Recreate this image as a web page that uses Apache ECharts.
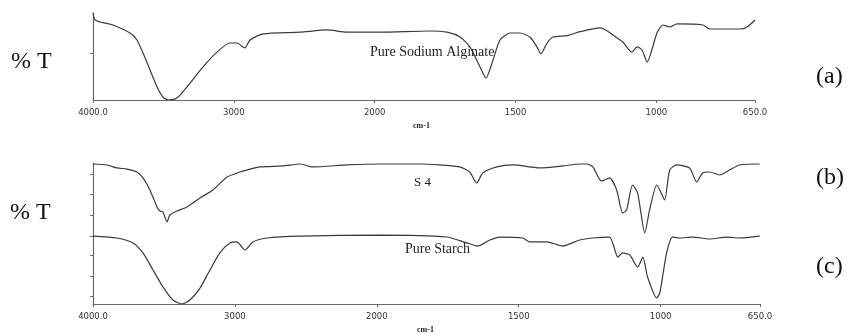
<!DOCTYPE html>
<html>
<head>
<meta charset="utf-8">
<script src="https://cdn.jsdelivr.net/npm/echarts@6/dist/echarts.min.js"></script>
<style>
  html, body { margin: 0; padding: 0; background: #fff; }
  #main { width: 849px; height: 334px; }
</style>
</head>
<body>
<div id="main"></div>
<script>
// wavenumbers (cm-1) and %T
var alginateWn = [4000, 3986, 3950, 3858, 3737, 3688, 3645, 3595, 3545, 3503, 3467, 3418, 3382, 3311, 3219, 3120, 3027, 2978, 2935, 2921, 2885, 2793, 2530, 2338, 2196, 1981, 1804, 1743, 1697, 1662, 1626, 1605, 1580, 1555, 1520, 1484, 1449, 1424, 1410, 1388, 1367, 1317, 1271, 1200, 1129, 1119, 1087, 1069, 1051, 1033, 998, 977, 952, 927, 835, 810, 703, 678, 650];
var alginateT = [100, 92, 89.7, 86.2, 77, 69, 54, 34.5, 15, 3.4, 0, 1, 5.7, 19.5, 38, 55, 65.5, 65.5, 61, 60, 69, 76, 78, 80.5, 78, 78, 79.3, 78, 72.4, 61, 38, 25.3, 46, 69, 77, 77, 72.4, 61, 53, 65.5, 72.4, 74, 78.5, 82.8, 69, 66.7, 55, 61, 57.5, 43.7, 77, 86.2, 84, 87.4, 86.2, 81.6, 81.6, 84, 92];

var s4Wn = [4000, 3901, 3831, 3761, 3690, 3648, 3599, 3549, 3528, 3507, 3479, 3458, 3408, 3338, 3246, 3155, 3056, 2965, 2916, 2824, 2662, 2542, 2451, 2211, 1989, 1849, 1708, 1673, 1648, 1627, 1577, 1521, 1426, 1345, 1285, 1261, 1239, 1208, 1180, 1155, 1134, 1120, 1099, 1081, 1056, 1039, 1014, 1003, 986, 968, 944, 898, 873, 852, 827, 792, 757, 722, 651];
var s4T = [99.3, 98.6, 96.5, 95.7, 93.6, 89.4, 80.9, 68.8, 66, 65.2, 58.2, 63.1, 66, 68.8, 75.2, 80.9, 90, 93.6, 95, 97.2, 97.9, 99.3, 97.2, 98.6, 99.3, 99.3, 97.2, 93.6, 85.8, 92.9, 97.2, 98.6, 96.5, 97.9, 99.3, 99.3, 97.2, 87.2, 89.4, 80.9, 64.5, 66.7, 84.4, 78.7, 50.4, 66.7, 84.4, 80.9, 73.8, 95, 98.6, 96.5, 86.5, 92.9, 93.6, 91.5, 95, 98.6, 99.3];

var starchWn = [4000, 3831, 3718, 3648, 3577, 3507, 3437, 3373, 3317, 3246, 3176, 3106, 3035, 2986, 2951, 2930, 2873, 2775, 2542, 1989, 1753, 1683, 1644, 1602, 1567, 1486, 1461, 1401, 1345, 1285, 1239, 1180, 1151, 1134, 1109, 1081, 1063, 1046, 1014, 1003, 979, 958, 933, 887, 827, 768, 722, 651];
var starchT = [48.2, 46.8, 43.3, 36.2, 24.1, 12.1, 2.8, 0, 2.8, 11.3, 24.1, 36.2, 43.3, 44, 40.4, 38.3, 44, 46.8, 48.2, 48.9, 47.5, 43.3, 41.1, 45.4, 47.5, 46.8, 44, 44, 41.1, 45.4, 46.8, 47.5, 33.3, 36.2, 34.8, 26.2, 33.3, 19.1, 4.3, 7.8, 36.2, 47.5, 46.8, 47.5, 46.1, 47.5, 46.8, 48.2];

// x tick labels and where they sit (wavenumber)
var tickWn = [4000, 3000, 2000, 1500, 1000, 650];
var tickLabels = ['4000.0', '3000', '2000', '1500', '1000', '650.0'];

// instrument scale: 4000-2000 compressed by 2, 2000-650 linear
function toAxis(w) {
  return w >= 2000 ? (4000 - w) / 2 : 1000 + (2000 - w);
}
function pairs(wn, t) {
  var out = [];
  for (var i = 0; i < wn.length; i++) out.push([toAxis(wn[i]), t[i]]);
  return out;
}

var tickPos = tickWn.map(toAxis);
var axisColor = '#6a6a6a';
var lineColor = '#3a3a3a';

function xAxisFor(gridIndex) {
  return {
    type: 'value', gridIndex: gridIndex, min: 0, max: 2350,
    axisLine: { lineStyle: { color: axisColor, width: 1.2 } },
    axisTick: { customValues: tickPos, length: 3, lineStyle: { color: axisColor } },
    splitLine: { show: false },
    axisLabel: {
      customValues: tickPos, margin: 8, fontSize: 8.5, color: '#333',
      fontFamily: 'DejaVu Sans',
      formatter: function (v) { return tickLabels[tickPos.indexOf(v)]; }
    }
  };
}
function yAxisFor(gridIndex, ticks) {
  return {
    type: 'value', gridIndex: gridIndex, min: 0, max: 100,
    axisLine: { show: true, lineStyle: { color: axisColor, width: 1.2 } },
    axisTick: { show: true, customValues: ticks, length: 3, lineStyle: { color: axisColor } },
    axisLabel: { show: false },
    splitLine: { show: false }
  };
}

var myChart = echarts.init(document.getElementById('main'));
var serif = '"Liberation Serif", "DejaVu Serif", serif';

var option = {
  animation: false,
  backgroundColor: '#fff',
  grid: [
    { left: 93, top: 13, width: 662, height: 87 },
    { left: 93, top: 163, width: 667, height: 141 }
  ],
  xAxis: [xAxisFor(0), xAxisFor(1)],
  yAxis: [
    yAxisFor(0, [54]),
    yAxisFor(1, [5.7, 19.9, 34.8, 48.2, 63.1, 78, 92.2])
  ],
  series: [
    { name: 'Pure Sodium Alginate', type: 'line', xAxisIndex: 0, yAxisIndex: 0, showSymbol: false, smooth: 0.22,
      lineStyle: { color: lineColor, width: 1.2 }, data: pairs(alginateWn, alginateT) },
    { name: 'S4', type: 'line', xAxisIndex: 1, yAxisIndex: 1, showSymbol: false, smooth: 0.22,
      lineStyle: { color: lineColor, width: 1.2 }, data: pairs(s4Wn, s4T) },
    { name: 'Pure Starch', type: 'line', xAxisIndex: 1, yAxisIndex: 1, showSymbol: false, smooth: 0.22,
      lineStyle: { color: lineColor, width: 1.2 }, data: pairs(starchWn, starchT) }
  ],
  graphic: [
    { type: 'text', left: 11, top: 50, style: { text: '% T', font: '24px ' + serif, fill: '#111' } },
    { type: 'text', left: 10, top: 201, style: { text: '% T', font: '24px ' + serif, fill: '#111' } },
    { type: 'text', left: 816, top: 65, style: { text: '(a)', font: '24px ' + serif, fill: '#111' } },
    { type: 'text', left: 816, top: 166, style: { text: '(b)', font: '24px ' + serif, fill: '#111' } },
    { type: 'text', left: 816, top: 255, style: { text: '(c)', font: '24px ' + serif, fill: '#111' } },
    { type: 'text', left: 370, top: 45, style: { text: 'Pure Sodium Alginate', font: '14px ' + serif, fill: '#222' } },
    { type: 'text', left: 414, top: 176, style: { text: 'S 4', font: '13px ' + serif, fill: '#222' } },
    { type: 'text', left: 405, top: 242, style: { text: 'Pure Starch', font: '14px ' + serif, fill: '#222' } },
    { type: 'text', left: 413, top: 122, style: { text: 'cm-1', font: 'bold 8px ' + serif, fill: '#222' } },
    { type: 'text', left: 417, top: 326, style: { text: 'cm-1', font: 'bold 8px ' + serif, fill: '#222' } }
  ]
};

option && myChart.setOption(option);
</script>
</body>
</html>
